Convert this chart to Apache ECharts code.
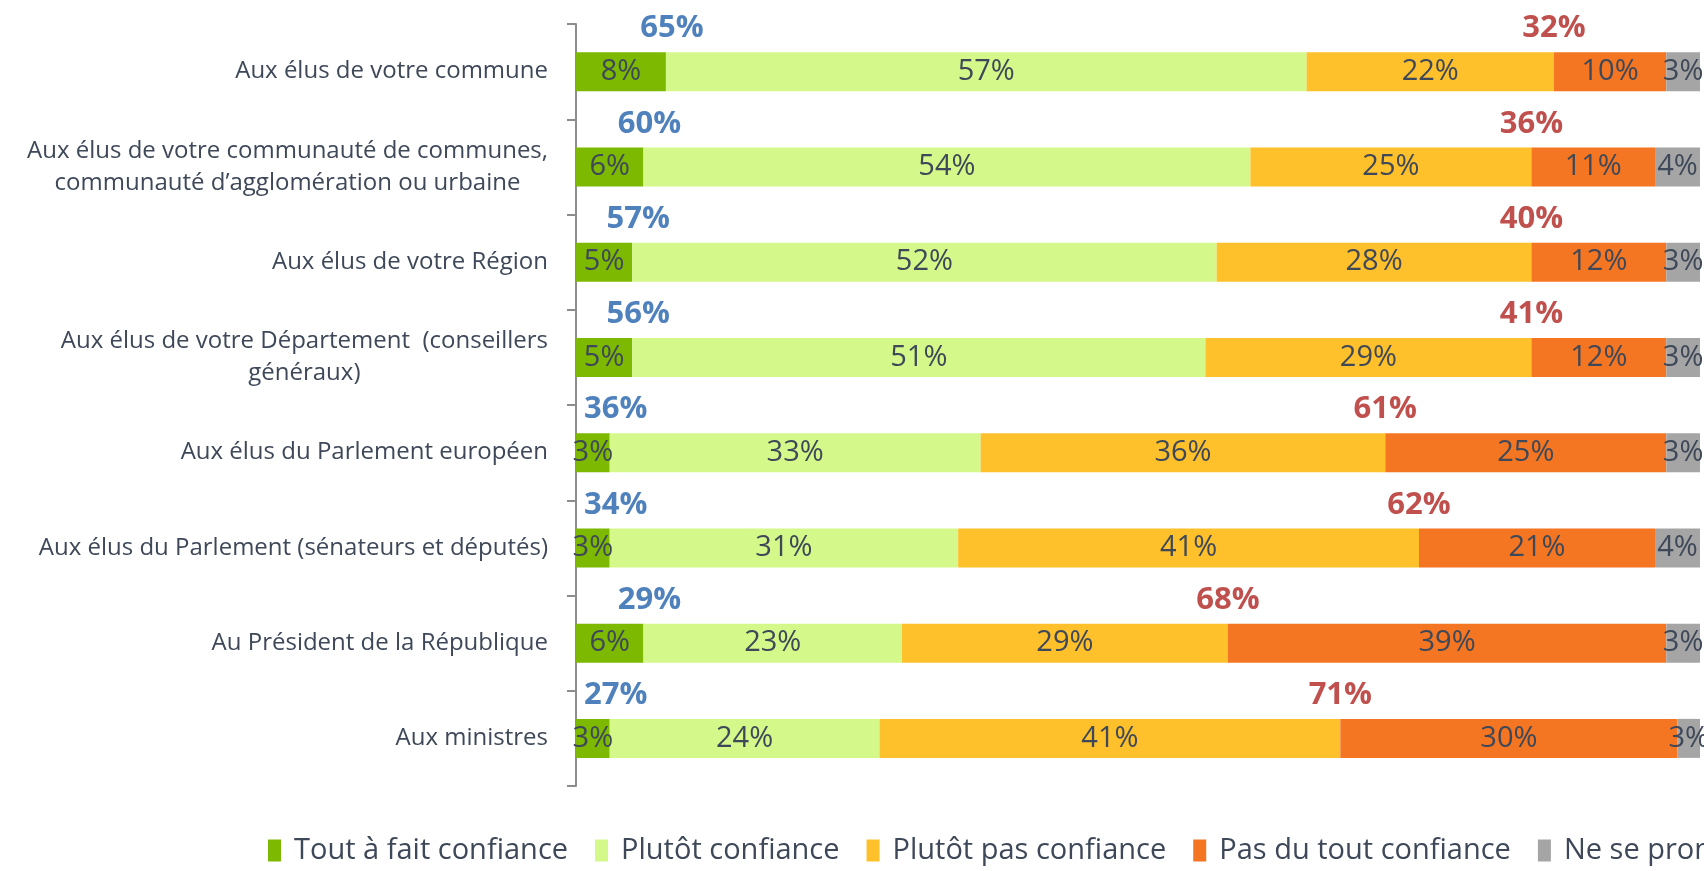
<!DOCTYPE html>
<html>
<head>
<meta charset="utf-8">
<title>Confiance dans les élus</title>
<script src="https://cdn.jsdelivr.net/npm/echarts@6/dist/echarts.min.js"></script>
<style>
  html, body { margin: 0; padding: 0; background: #fff; }
  #chart { width: 1704px; height: 871px; }
</style>
</head>
<body>
<div id="chart"></div>
<script>
// lignes du graphique, de haut en bas
const categories = [
  'Aux élus de votre commune',
  'Aux élus de votre communauté de communes,\ncommunauté d\u2019agglomération ou urbaine',
  'Aux élus de votre Région',
  'Aux élus de votre Département  (conseillers\ngénéraux)',
  'Aux élus du Parlement européen',
  'Aux élus du Parlement (sénateurs et députés)',
  'Au Président de la République',
  'Aux ministres'
]
const seriesNames = ['Tout à fait confiance', 'Plutôt confiance', 'Plutôt pas confiance', 'Pas du tout confiance', 'Ne se prononcent pas']
const toutAFait = [8, 6, 5, 5, 3, 3, 6, 3]
const plutot = [57, 54, 52, 51, 33, 31, 23, 24]
const plutotPas = [22, 25, 28, 29, 36, 41, 29, 41]
const pasDuTout = [10, 11, 12, 12, 25, 21, 39, 30]
const nsp = [3, 4, 3, 3, 3, 4, 3, 3]
// totaux affichés au-dessus des barres
const totalConfiance = [65, 60, 57, 56, 36, 34, 29, 27]
const totalDefiance = [32, 36, 40, 41, 61, 62, 68, 71]

const colors = ['#7cb900', '#d4f98a', '#fec02b', '#f47522', '#a5a5a5']
const font = '"Open Sans", "Noto Sans", sans-serif'
const textColor = '#3e4858'

function barSerie (idx, values) {
  return {
    name: seriesNames[idx],
    type: 'bar',
    stack: 'total',
    barWidth: 39,
    data: values,
    itemStyle: { color: colors[idx] },
    label: {
      show: true,
      position: 'inside',
      formatter: '{c}%',
      fontFamily: font,
      fontSize: 29,
      color: textColor
    }
  }
}

// points invisibles qui portent les totaux
function totalSerie (xs, totals, color, dx) {
  return {
    type: 'scatter',
    silent: true,
    symbolSize: 1,
    itemStyle: { color: 'rgba(0,0,0,0)', opacity: 1 },
    data: categories.map((c, i) => [xs[i], c]),
    label: {
      show: true,
      position: 'inside',
      offset: [dx, -43],
      formatter: p => totals[p.dataIndex] + '%',
      fontFamily: font,
      fontSize: 31,
      fontWeight: 'bold',
      color: color,
      opacity: 1
    },
    z: 5
  }
}

const chart = echarts.init(document.getElementById('chart'))
chart.setOption({
  animation: false,
  textStyle: { fontFamily: font },
  grid: { left: 576, right: 4, top: 24, bottom: 85, containLabel: false },
  legend: {
    data: seriesNames,
    left: 268,
    top: 836,
    width: 2200,
    padding: 0,
    itemWidth: 13,
    itemHeight: 22,
    itemGap: 27,
    icon: 'rect',
    textStyle: { fontFamily: font, fontSize: 29, color: textColor, padding: [0, 0, 0, 8] }
  },
  xAxis: {
    type: 'value',
    min: 0,
    max: 100,
    show: false
  },
  yAxis: {
    type: 'category',
    inverse: true,
    data: categories,
    axisLine: { show: true, lineStyle: { color: '#8d8d8d', width: 2 } },
    axisTick: { show: true, length: 9, lineStyle: { color: '#8d8d8d', width: 2 } },
    axisLabel: {
      margin: 28,
      formatter: v => v.split('\n').map(s => '{c|' + s + '}').join('\n'),
      rich: {
        c: { align: 'center', fontFamily: font, fontSize: 24, lineHeight: 32, color: textColor }
      }
    }
  },
  series: [
    barSerie(0, toutAFait),
    barSerie(1, plutot),
    barSerie(2, plutotPas),
    barSerie(3, pasDuTout),
    barSerie(4, nsp),
    totalSerie(toutAFait, totalConfiance, '#4f81bd', 6),
    totalSerie(toutAFait.map((v, i) => v + plutot[i] + plutotPas[i]), totalDefiance, '#c0504d', 0)
  ]
})
</script>
</body>
</html>
